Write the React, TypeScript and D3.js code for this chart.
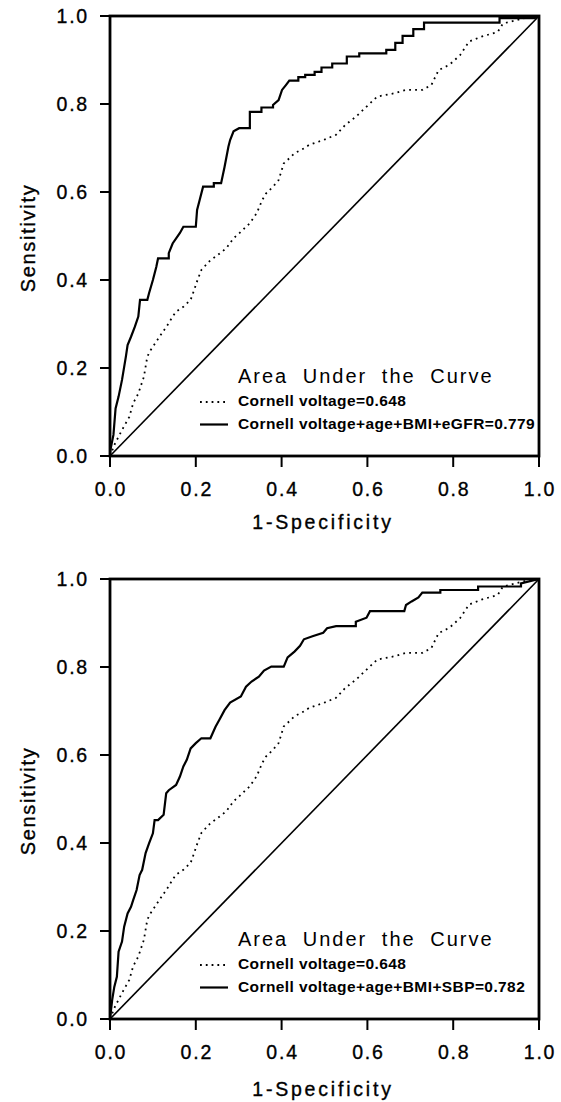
import * as d3 from "d3";

// ROC points: [1-specificity, sensitivity]
const cornellOnly: [number, number][] = [
  [0, 0], [0.012, 0.029], [0.028, 0.059], [0.045, 0.089], [0.054, 0.12], [0.066, 0.142],
  [0.079, 0.18], [0.087, 0.226], [0.095, 0.241], [0.108, 0.26], [0.121, 0.279], [0.137, 0.302],
  [0.146, 0.317], [0.154, 0.328], [0.171, 0.339], [0.188, 0.355], [0.196, 0.377], [0.204, 0.4],
  [0.213, 0.423], [0.234, 0.445], [0.246, 0.453], [0.271, 0.472], [0.288, 0.495], [0.301, 0.506],
  [0.326, 0.529], [0.342, 0.552], [0.355, 0.582], [0.364, 0.597], [0.38, 0.612], [0.393, 0.627],
  [0.405, 0.665], [0.414, 0.673], [0.43, 0.688], [0.452, 0.699], [0.464, 0.707], [0.497, 0.718],
  [0.527, 0.73], [0.548, 0.752], [0.573, 0.771], [0.598, 0.794], [0.623, 0.817], [0.661, 0.824],
  [0.69, 0.832], [0.728, 0.832], [0.749, 0.843], [0.766, 0.877], [0.791, 0.889], [0.816, 0.911],
  [0.837, 0.942], [0.866, 0.953], [0.904, 0.964], [0.916, 0.983], [0.966, 0.995], [1, 1],
];

const withEgfr: [number, number][] = [
  [0, 0], [0.001, 0.014], [0.008, 0.048], [0.013, 0.108], [0.02, 0.135], [0.028, 0.173],
  [0.037, 0.226], [0.041, 0.252], [0.049, 0.271], [0.058, 0.294], [0.066, 0.317], [0.07, 0.355],
  [0.087, 0.355], [0.091, 0.37], [0.1, 0.4], [0.108, 0.43], [0.112, 0.449], [0.137, 0.449],
  [0.137, 0.461], [0.146, 0.483], [0.163, 0.507], [0.171, 0.521], [0.2, 0.521], [0.203, 0.559],
  [0.209, 0.582], [0.217, 0.612], [0.242, 0.612], [0.242, 0.62], [0.259, 0.62], [0.267, 0.657],
  [0.276, 0.703], [0.28, 0.718], [0.288, 0.738], [0.301, 0.745], [0.326, 0.745], [0.326, 0.782],
  [0.353, 0.782], [0.353, 0.792], [0.38, 0.792], [0.38, 0.798], [0.393, 0.809], [0.401, 0.832],
  [0.41, 0.843], [0.418, 0.853], [0.439, 0.853], [0.439, 0.861], [0.455, 0.861], [0.455, 0.866],
  [0.477, 0.866], [0.477, 0.873], [0.493, 0.873], [0.493, 0.883], [0.518, 0.883], [0.518, 0.892],
  [0.552, 0.892], [0.552, 0.908], [0.581, 0.908], [0.581, 0.915], [0.644, 0.915], [0.644, 0.923],
  [0.665, 0.923], [0.665, 0.939], [0.682, 0.939], [0.682, 0.955], [0.707, 0.955], [0.707, 0.97],
  [0.732, 0.97], [0.732, 0.985], [0.908, 0.985], [0.908, 0.995], [0.99, 0.995], [1, 1],
];

const withSbp: [number, number][] = [
  [0, 0], [0.005, 0.043], [0.01, 0.073], [0.016, 0.096], [0.02, 0.153], [0.028, 0.176],
  [0.033, 0.21], [0.041, 0.24], [0.049, 0.255], [0.054, 0.27], [0.062, 0.293], [0.069, 0.327],
  [0.075, 0.339], [0.083, 0.377], [0.091, 0.399], [0.1, 0.422], [0.104, 0.452], [0.112, 0.452],
  [0.125, 0.464], [0.131, 0.513], [0.137, 0.52], [0.154, 0.532], [0.163, 0.551], [0.171, 0.574],
  [0.179, 0.589], [0.188, 0.615], [0.2, 0.627], [0.213, 0.638], [0.234, 0.638], [0.246, 0.664],
  [0.255, 0.68], [0.267, 0.702], [0.28, 0.719], [0.305, 0.733], [0.317, 0.755], [0.33, 0.767],
  [0.347, 0.778], [0.359, 0.792], [0.376, 0.801], [0.405, 0.801], [0.414, 0.822], [0.43, 0.835],
  [0.443, 0.848], [0.452, 0.863], [0.472, 0.87], [0.497, 0.878], [0.506, 0.888], [0.527, 0.893],
  [0.573, 0.893], [0.573, 0.903], [0.598, 0.912], [0.606, 0.927], [0.686, 0.927], [0.69, 0.941],
  [0.703, 0.949], [0.719, 0.958], [0.728, 0.969], [0.77, 0.969], [0.77, 0.975], [0.858, 0.975],
  [0.858, 0.983], [0.958, 0.983], [0.958, 0.99], [1, 1],
];

const ticks = [0, 0.2, 0.4, 0.6, 0.8, 1.0];
const legendTitle = "Area Under the Curve";
const dottedLabel = "Cornell voltage=0.648";
const panels = [
  { top: 16, model: withEgfr, label: "Cornell voltage+age+BMI+eGFR=0.779", xTitleGap: 73 },
  { top: 579, model: withSbp, label: "Cornell voltage+age+BMI+SBP=0.782", xTitleGap: 77 },
];

const FONT = "'Liberation Sans', Arial, Helvetica, sans-serif";
const left = 110;
const right = 539;
const plotH = 440;

function Panel({ top, model, label, xTitleGap }: { top: number; model: [number, number][]; label: string; xTitleGap: number }) {
  const x = d3.scaleLinear().domain([0, 1]).range([left, right]);
  const y = d3.scaleLinear().domain([0, 1]).range([top + plotH, top]);
  const line = d3.line<[number, number]>().x((d) => x(d[0])).y((d) => y(d[1]));
  const bottom = y(0);
  const fmt = d3.format(".1f");

  return (
    <g fontFamily={FONT} fill="#000">
      {/* chance diagonal */}
      <path d={line([[0, 0], [1, 1]]) || ""} stroke="#000" strokeWidth={1.6} fill="none" />
      <path d={line(cornellOnly) || ""} stroke="#000" strokeWidth={1.8} fill="none" strokeDasharray="1.8 4.2" />
      <path d={line(model) || ""} stroke="#000" strokeWidth={2.2} fill="none" />

      {/* frame */}
      <rect x={x(0)} y={y(1)} width={x(1) - x(0)} height={y(0) - y(1)} fill="none" stroke="#000" strokeWidth={2.8} />

      {/* y axis */}
      {ticks.map((t) => (
        <g key={"y" + t}>
          <line x1={x(0) - 10} x2={x(0)} y1={y(t)} y2={y(t)} stroke="#000" strokeWidth={2} />
          <text x={89} y={y(t)} dy="0.36em" textAnchor="end" fontSize={19.5} letterSpacing={1.8} stroke="#000" strokeWidth={0.35}>
            {fmt(t)}
          </text>
        </g>
      ))}
      {/* x axis */}
      {ticks.map((t) => (
        <g key={"x" + t}>
          <line x1={x(t)} x2={x(t)} y1={bottom} y2={bottom + 11} stroke="#000" strokeWidth={2} />
          <text x={x(t) + 1} y={bottom + 40} textAnchor="middle" fontSize={19.5} letterSpacing={1.8} stroke="#000" strokeWidth={0.35}>
            {fmt(t)}
          </text>
        </g>
      ))}

      <text x={323} y={bottom + xTitleGap} textAnchor="middle" fontSize={19.5} letterSpacing={2.8} stroke="#000" strokeWidth={0.35}>
        1-Specificity
      </text>
      <text
        transform={`translate(35,${(y(0) + y(1)) / 2 + 2}) rotate(-90)`}
        textAnchor="middle"
        fontSize={20}
        letterSpacing={1.7}
        stroke="#000"
        strokeWidth={0.35}
      >
        Sensitivity
      </text>

      {/* legend */}
      <text x={238} y={bottom - 73} fontSize={20} letterSpacing={2} wordSpacing={7}>
        {legendTitle}
      </text>
      <line x1={200} x2={228} y1={bottom - 54} y2={bottom - 54} stroke="#000" strokeWidth={1.8} strokeDasharray="1.8 4" />
      <text x={238} y={bottom - 50} fontSize={15.5} fontWeight="bold" letterSpacing={0.4}>
        {dottedLabel}
      </text>
      <line x1={200} x2={228} y1={bottom - 31.5} y2={bottom - 31.5} stroke="#000" strokeWidth={2.2} />
      <text x={238} y={bottom - 27} fontSize={15.5} fontWeight="bold" letterSpacing={0.4}>
        {label}
      </text>
    </g>
  );
}

export default function App() {
  return (
    <svg width={561} height={1102} style={{ position: "absolute", left: 0, top: 0 }}>
      <rect width={561} height={1102} fill="#fff" />
      {panels.map((p) => (
        <Panel key={p.top} top={p.top} model={p.model} label={p.label} xTitleGap={p.xTitleGap} />
      ))}
    </svg>
  );
}
